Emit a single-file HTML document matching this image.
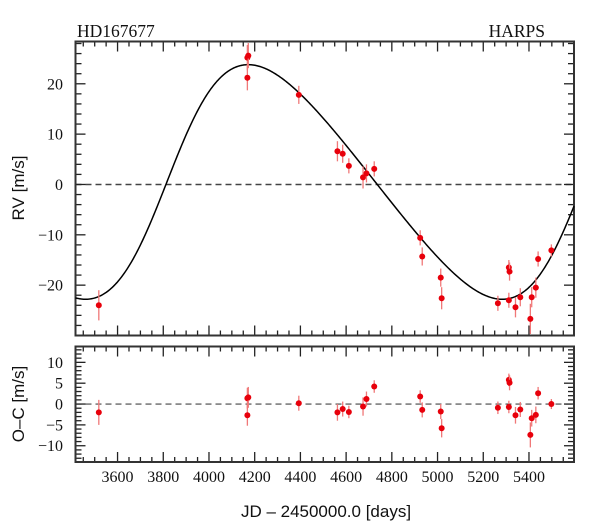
<!DOCTYPE html>
<html><head><meta charset="utf-8"><style>
body{margin:0;background:#fff}
svg{display:block}
.ser{font-family:"Liberation Serif",serif;font-size:16px;fill:#111}
.ttl{font-family:"Liberation Serif",serif;font-size:17.5px;fill:#111}
.san{font-family:"Liberation Sans",sans-serif;font-size:17px;fill:#111}
</style></head><body>
<svg id="chart" width="600" height="529" viewBox="0 0 600 529" xmlns="http://www.w3.org/2000/svg">
<text class="ttl" x="77" y="37">HD167677</text>
<text class="ttl" x="545" y="37" text-anchor="end">HARPS</text>
<text class="san" transform="translate(24,188) rotate(-90)" text-anchor="middle">RV [m/s]</text>
<text class="san" transform="translate(24,404) rotate(-90)" text-anchor="middle">O–C [m/s]</text>
<text class="san" x="326" y="517" text-anchor="middle">JD – 2450000.0 [days]</text>
<g id="g"></g>
</svg>
<script>
const times=[3518,4168,4168,4172,4393,4562,4585,4612,4674,4689,4723,4924,4933,5014,5018,5264,5312,5315,5312,5341,5362,5406,5412,5430,5440,5498];
const rvValues=[-24.0,21.2,25.2,25.6,17.8,6.6,6.1,3.7,1.4,2.2,3.1,-10.6,-14.3,-18.5,-22.6,-23.6,-16.5,-17.3,-23.0,-24.4,-22.4,-26.7,-22.4,-20.5,-14.8,-13.1];
const ocValues=[-2.0,-2.7,1.4,1.6,0.2,-2.0,-1.2,-1.9,-0.6,1.2,4.2,1.8,-1.4,-1.8,-5.8,-0.9,5.8,5.1,-0.7,-2.7,-1.3,-7.4,-3.4,-2.6,2.6,0.0];
const errValues=[3.0,2.5,2.5,2.5,1.8,2.0,1.8,1.5,2.2,1.8,1.5,1.5,1.8,1.8,2.2,1.5,1.5,1.8,1.5,2.0,1.8,3.0,2.0,2.0,1.5,1.2];
const xTicks=[3600,3800,4000,4200,4400,4600,4800,5000,5200,5400];
const rvTicks=[20,10,0,-10,-20];
const ocTicks=[10,5,0,-5,-10];
const orbitParams={P:1823,K:23.3,e:0.173,omegaDeg:270,Tp:3816,gamma:0.5};

const NS='http://www.w3.org/2000/svg';
const g=document.getElementById('g');
const X0=75.5,X1=574,D0=3416,D1=5597;
const xs=d=>X0+(d-D0)/(D1-D0)*(X1-X0);
const T={top:41.5,bot:335.5,min:-30.0,max:28.4};
const B={top:346.5,bot:462,min:-13.9,max:13.8};
const ys=(p,v)=>p.bot-(v-p.min)/(p.max-p.min)*(p.bot-p.top);
function mk(tag,at,parent){const e=document.createElementNS(NS,tag);for(const k in at)e.setAttribute(k,at[k]);(parent||g).appendChild(e);return e;}

function model(t){
  const {P,K,e,omegaDeg,Tp,gamma}=orbitParams;
  const w=omegaDeg*Math.PI/180;
  let M=2*Math.PI*((t-Tp)/P);M=M-2*Math.PI*Math.floor(M/(2*Math.PI));
  let E=M;for(let i=0;i<30;i++)E=E-(E-e*Math.sin(E)-M)/(1-e*Math.cos(E));
  const nu=2*Math.atan2(Math.sqrt(1+e)*Math.sin(E/2),Math.sqrt(1-e)*Math.cos(E/2));
  return K*(Math.cos(nu+w)+e*Math.cos(w))+gamma;
}

function panel(p,name,yTicks,minorStep,majorStep){
  let z=mk('line',{x1:X0,x2:X1,y1:ys(p,0),y2:ys(p,0),stroke:'#444','stroke-width':name==='rv'?1.5:1.2,'stroke-dasharray':'6,4'});
  
  
  for(let d=3450;d<=D1;d+=50){
    const maj=d%200===0;const L=maj?10:5;const x=xs(d);
    mk('line',{x1:x,x2:x,y1:p.top,y2:p.top+L,stroke:'#222','stroke-width':1.3});
    mk('line',{x1:x,x2:x,y1:p.bot,y2:p.bot-L,stroke:'#222','stroke-width':1.3});
  }
  const s=Math.ceil(p.min/minorStep)*minorStep;
  for(let v=s;v<=p.max+1e-9;v+=minorStep){
    const r=Math.round(v*100)/100;const maj=Math.abs(r%majorStep)<1e-6;const L=maj?10:6;const y=ys(p,r);
    mk('line',{x1:X0,x2:X0+L,y1:y,y2:y,stroke:'#222','stroke-width':1.3});
    mk('line',{x1:X1,x2:X1-L,y1:y,y2:y,stroke:'#222','stroke-width':1.3});
  }
  yTicks.forEach(v=>{
    const t=mk('text',{x:63,y:ys(p,v)+5.5,'text-anchor':'end',class:'ser'});
    t.textContent=v<0?'−'+Math.abs(v):String(v);
    
    
  });
  const f=mk('rect',{x:X0,y:p.top,width:X1-X0,height:p.bot-p.top,fill:'none',stroke:'#333','stroke-width':2});
  
  
}
panel(T,'rv',rvTicks,2,10);
panel(B,'oc',ocTicks,1,5);

xTicks.forEach(d=>{
  const t=mk('text',{x:xs(d),y:482,'text-anchor':'middle',class:'ser'});
  t.textContent=d;
  
  
});

let pts=[];
for(let i=0;i<=500;i++){const t=D0+(D1-D0)*i/500;pts.push(xs(t).toFixed(2)+','+ys(T,model(t)).toFixed(2));}
const c=mk('polyline',{points:pts.join(' '),fill:'none',stroke:'#000','stroke-width':1.5});



function points(p,vals,name){
  vals.forEach((v,i)=>{
    const x=xs(times[i]);
    const eb=mk('line',{x1:x,x2:x,y1:ys(p,v+errValues[i]),y2:ys(p,v-errValues[i]),stroke:'#f07878','stroke-width':1.3});
    
    
    const d=mk('circle',{cx:x,cy:ys(p,v),r:3,fill:'#e8000b'});
    
    
  });
}
points(T,rvValues,'rv');
points(B,ocValues,'oc');
</script>
</body></html>
